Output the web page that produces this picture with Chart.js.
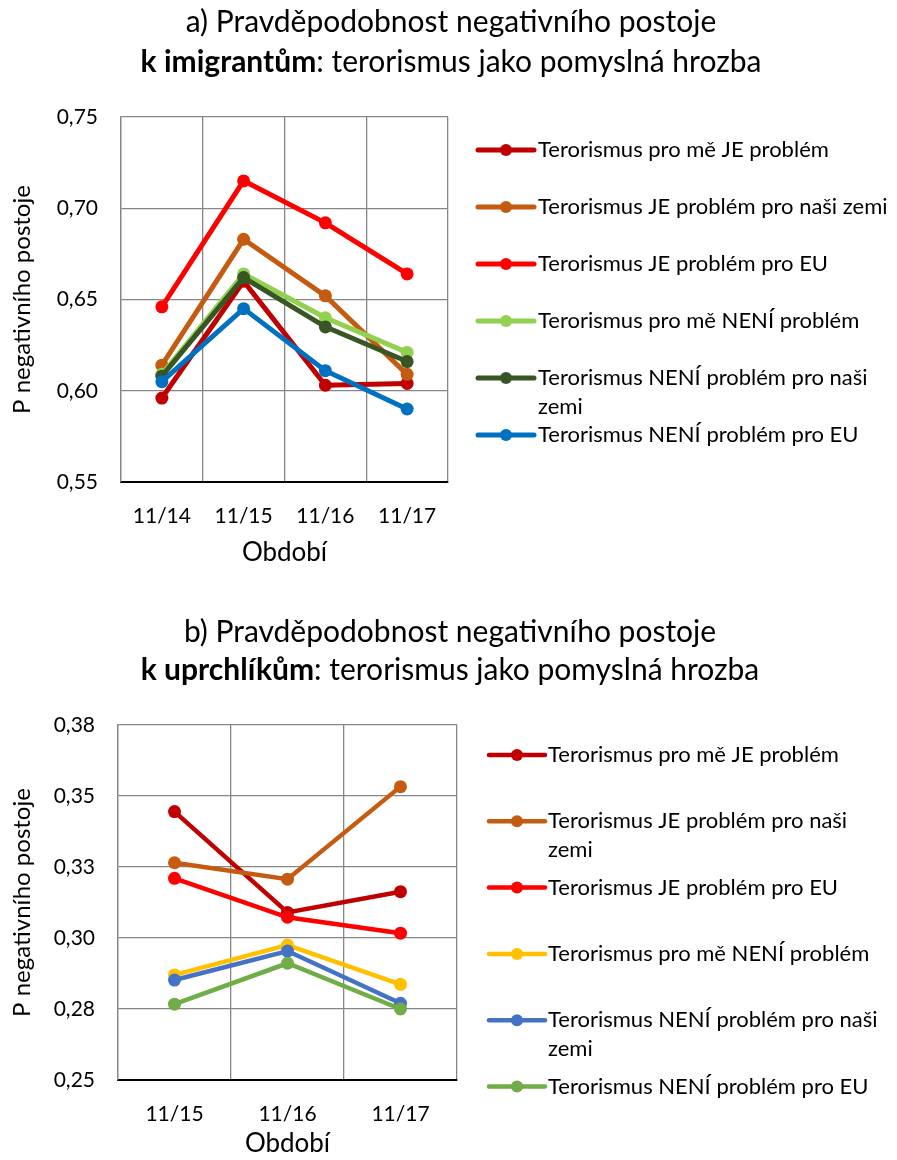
<!DOCTYPE html>
<html>
<head>
<meta charset="utf-8">
<script src="https://cdn.jsdelivr.net/npm/chart.js@4"></script>
<style>
  body { margin: 0; background: #fff; }
  .wrap { width: 897px; position: relative; }
  canvas { display: block; }
</style>
</head>
<body>
<div class="wrap">
  <canvas id="chartA" width="897" height="585"></canvas>
  <canvas id="chartB" width="897" height="575"></canvas>
</div>
<script>
// data
const seriesNames = [
  'Terorismus pro mě JE problém',
  'Terorismus JE problém pro naši zemi',
  'Terorismus JE problém pro EU',
  'Terorismus pro mě NENÍ problém',
  'Terorismus NENÍ problém pro naši zemi',
  'Terorismus NENÍ problém pro EU'
];

const periodsA = ['11/14', '11/15', '11/16', '11/17'];
const meJeA = [0.596, 0.660, 0.603, 0.604];
const zemeJeA = [0.614, 0.683, 0.652, 0.609];
const euJeA = [0.646, 0.715, 0.692, 0.664];
const meNeniA = [0.609, 0.664, 0.640, 0.621];
const zemeNeniA = [0.608, 0.662, 0.635, 0.616];
const euNeniA = [0.605, 0.645, 0.611, 0.590];
const yTicksA = ['0,55', '0,60', '0,65', '0,70', '0,75'];
const colorsA = ['#C00000', '#C55A11', '#FF0000', '#92D050', '#375623', '#0070C0'];
const titleA = ['a) Pravděpodobnost negativního postoje', 'k imigrantům', ': terorismus jako pomyslná hrozba'];

const periodsB = ['11/15', '11/16', '11/17'];
const meJeB = [0.3445, 0.309, 0.3163];
const zemeJeB = [0.3265, 0.3207, 0.3533];
const euJeB = [0.321, 0.3073, 0.3017];
const meNeniB = [0.287, 0.2975, 0.2837];
const zemeNeniB = [0.2852, 0.2954, 0.277];
const euNeniB = [0.2767, 0.2911, 0.275];
const yTicksB = ['0,25', '0,28', '0,30', '0,33', '0,35', '0,38'];
const colorsB = ['#C00000', '#C55A11', '#FF0000', '#FFC000', '#4472C4', '#70AD47'];
const titleB = ['b) Pravděpodobnost negativního postoje', 'k uprchlíkům', ': terorismus jako pomyslná hrozba'];

const axisTitleX = 'Období';
const axisTitleY = 'P negativního postoje';

const FONT = 'Lato';
const TEXT = '#000';

// wrap text to max width
function wrapText(ctx, text, maxWidth) {
  const words = text.split(' ');
  const lines = [];
  let cur = '';
  words.forEach(w => {
    const test = cur ? cur + ' ' + w : w;
    if (ctx.measureText(test).width > maxWidth && cur) {
      lines.push(cur);
      cur = w;
    } else {
      cur = test;
    }
  });
  if (cur) lines.push(cur);
  return lines;
}

// legend on the right, excel style
const sideLegend = {
  id: 'sideLegend',
  afterDraw(chart, args, opts) {
    const ctx = chart.ctx;
    ctx.save();
    ctx.font = opts.fontSize + 'px ' + FONT;
    ctx.textBaseline = 'middle';
    ctx.textAlign = 'left';
    chart.data.datasets.forEach((ds, i) => {
      const y = opts.top + i * opts.step;
      ctx.strokeStyle = ds.borderColor;
      ctx.lineWidth = ds.borderWidth;
      ctx.lineCap = 'round';
      ctx.beginPath();
      ctx.moveTo(opts.x, y);
      ctx.lineTo(opts.x + opts.lineLen, y);
      ctx.stroke();
      ctx.fillStyle = ds.borderColor;
      ctx.beginPath();
      ctx.arc(opts.x + opts.lineLen / 2, y, ds.pointRadius - 0.5, 0, Math.PI * 2);
      ctx.fill();
      ctx.fillStyle = TEXT;
      wrapText(ctx, ds.label, opts.maxWidth).forEach((line, j) => {
        ctx.fillText(line, opts.textX, y + j * opts.lineHeight);
      });
    });
    ctx.restore();
  }
};

// two line title, second line starts bold
const twoLineTitle = {
  id: 'twoLineTitle',
  afterDraw(chart, args, opts) {
    const ctx = chart.ctx;
    const t = opts.text;
    ctx.save();
    ctx.fillStyle = TEXT;
    ctx.textBaseline = 'middle';
    ctx.font = opts.fontSize + 'px ' + FONT;
    ctx.textAlign = 'center';
    ctx.fillText(t[0], opts.cx, opts.y1);
    const boldFont = 'bold ' + opts.fontSize + 'px ' + FONT;
    const normFont = opts.fontSize + 'px ' + FONT;
    ctx.font = boldFont;
    const wb = ctx.measureText(t[1]).width;
    ctx.font = normFont;
    const wn = ctx.measureText(t[2]).width;
    let x = opts.cx - (wb + wn) / 2;
    ctx.textAlign = 'left';
    ctx.font = boldFont;
    ctx.fillText(t[1], x, opts.y2);
    ctx.font = normFont;
    ctx.fillText(t[2], x + wb, opts.y2);
    ctx.restore();
  }
};

function makeDatasets(values, colors, lw) {
  return values.map((v, i) => ({
    label: seriesNames[i],
    data: v,
    borderColor: colors[i],
    backgroundColor: colors[i],
    borderWidth: lw,
    pointRadius: 6.5,
    pointHoverRadius: 6.5,
    pointBorderWidth: 0,
    tension: 0,
    order: -i
  }));
}

function makeChart(id, cfg) {
  const gridColor = '#868686';
  return new Chart(document.getElementById(id), {
    type: 'line',
    data: {
      labels: cfg.labels,
      datasets: makeDatasets(cfg.values, cfg.colors, cfg.lineWidth)
    },
    options: {
      responsive: false,
      animation: false,
      devicePixelRatio: 1,
      layout: {
        padding: { top: cfg.areaTop, right: cfg.padRight, left: 0, bottom: 0 }
      },
      plugins: {
        legend: { display: false },
        tooltip: { enabled: false },
        sideLegend: cfg.legend,
        twoLineTitle: cfg.title
      },
      scales: {
        x: {
          offset: true,
          grid: { offset: true, color: gridColor, lineWidth: 1.3, drawTicks: false },
          border: { color: '#000', width: 2 },
          ticks: { color: TEXT, font: { family: FONT, size: 21 }, padding: 22, maxRotation: 0 },
          title: {
            display: true, text: axisTitleX, color: TEXT,
            font: { family: FONT, size: 26 }, padding: { top: 0, bottom: cfg.xTitlePad }
          },
          afterFit(scale) { scale.height = cfg.xHeight; }
        },
        y: {
          min: cfg.min,
          max: cfg.max,
          grid: { color: gridColor, lineWidth: 1.3, drawTicks: false },
          border: { color: gridColor, width: 1.3 },
          ticks: {
            stepSize: cfg.step,
            color: TEXT,
            font: { family: FONT, size: 21 },
            padding: 23,
            callback: (v, i) => cfg.yTicks[i]
          },
          title: {
            display: true, text: axisTitleY, color: TEXT,
            font: { family: FONT, size: 24 }, padding: { top: 8, bottom: 0 }
          },
          afterFit(scale) { scale.width = cfg.yWidth; }
        }
      }
    },
    plugins: [sideLegend, twoLineTitle]
  });
}

makeChart('chartA', {
  labels: periodsA,
  values: [meJeA, zemeJeA, euJeA, meNeniA, zemeNeniA, euNeniA],
  colors: colorsA,
  lineWidth: 5,
  yTicks: yTicksA,
  min: 0.55, max: 0.75, step: 0.05,
  areaTop: 117, padRight: 449, yWidth: 121, xHeight: 103, xTitlePad: 17,
  legend: { x: 478, lineLen: 56, textX: 538, top: 150, step: 57, lineHeight: 29, maxWidth: 372, fontSize: 22 },
  title: { text: titleA, cx: 451, y1: 22, y2: 62, fontSize: 30 }
});

makeChart('chartB', {
  labels: periodsB,
  values: [meJeB, zemeJeB, euJeB, meNeniB, zemeNeniB, euNeniB],
  colors: colorsB,
  lineWidth: 4.5,
  yTicks: yTicksB,
  min: 0.25, max: 0.375, step: 0.025,
  areaTop: 140, padRight: 440, yWidth: 118, xHeight: 80, xTitlePad: 1,
  legend: { x: 489, lineLen: 56, textX: 548, top: 170, step: 66.3, lineHeight: 28.5, maxWidth: 345, fontSize: 22 },
  title: { text: titleB, cx: 450, y1: 47, y2: 85, fontSize: 30 }
});
</script>
</body>
</html>
